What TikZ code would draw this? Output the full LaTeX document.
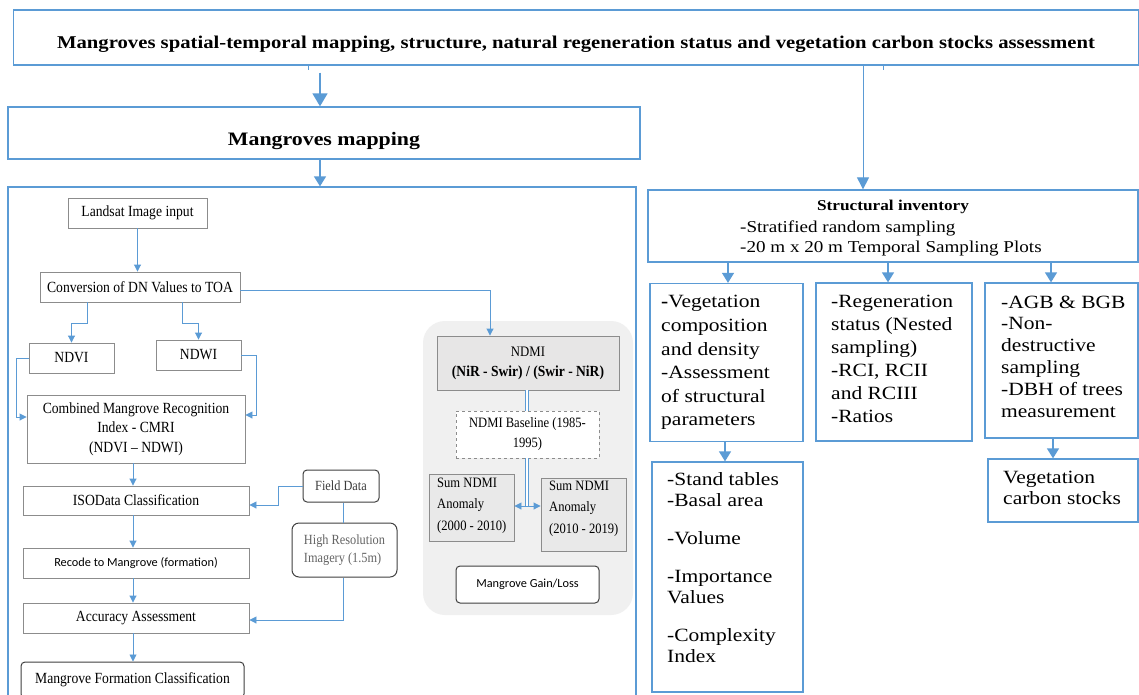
\documentclass[tikz,border=0pt]{standalone}
\usepackage{fontspec}
\setmainfont{Liberation Serif}
\newfontfamily\wserif{Liberation Serif}[FakeStretch=1.15]
\newfontfamily\nserif{Liberation Serif}[FakeStretch=0.88]
\newfontfamily\calib{Carlito}
\usetikzlibrary{arrows.meta}
\definecolor{bl}{RGB}{91,155,213}
\definecolor{gb}{RGB}{140,140,140}
\definecolor{db}{RGB}{64,64,64}
\definecolor{pg}{RGB}{240,240,240}
\definecolor{ng}{RGB}{231,230,230}
\definecolor{sg}{RGB}{233,233,233}
\definecolor{fd}{RGB}{60,60,60}
\definecolor{hrt}{RGB}{100,100,100}
\begin{document}
\begin{tikzpicture}[x=1pt,y=-1pt,
  sz/.style 2 args={minimum width=#1pt,minimum height=#2pt},
  bbox/.style={draw=bl,line width=1.3pt,inner sep=0pt},
  gbox/.style={draw=gb,line width=0.9pt,fill=white,inner sep=0pt},
  dbox/.style={draw=db,line width=1pt,fill=white,inner sep=0pt,rounded corners=4pt},
  arr/.style={draw=bl,line width=0.9pt,-{Triangle[width=7pt,length=7pt]}},
  marr/.style={draw=bl,line width=1.3pt,-{Triangle[width=12pt,length=10pt]}},
  tarr/.style={draw=bl,line width=1pt,-{Triangle[width=12pt,length=12pt]}},
  barr/.style={draw=bl,line width=1.4pt,-{Triangle[width=15pt,length=13pt]}},
  dbl/.style={draw=bl,double=white,line width=0.7pt,double distance=2.2pt},
  lt/.style={font=\nserif\fontsize{15.5}{19.5}\selectfont,inner sep=0pt},
  pt/.style={font=\nserif\fontsize{14.3}{21.5}\selectfont,inner sep=0pt},
  rt/.style={font=\wserif\fontsize{18.7}{23.6}\selectfont,inner sep=0pt,align=left,anchor=north west},
]
\clip (0,0) rectangle (1139,694);
\fill[white] (0,0) rectangle (1139,694);

% coordinates for connector bends
\coordinate (ax1) at (320,0);
\coordinate (ax2) at (863,0);
\coordinate (t1) at (308,0);
\coordinate (t2) at (883,0);
\coordinate (r1) at (728,0);
\coordinate (r2) at (888,0);
\coordinate (r3) at (1051,0);
\coordinate (r4) at (725,0);
\coordinate (r5) at (1053,0);
\coordinate (c1) at (87,323);
\coordinate (c2) at (182,323);
\coordinate (c3) at (16,417);
\coordinate (c4) at (256,415);
\coordinate (vx) at (133,0);
\coordinate (c6) at (278,505);
\coordinate (c7) at (343,0);
\coordinate (c8) at (343,620);
\coordinate (c9) at (490,290);
\coordinate (c10) at (527,506);

% top level
\node[bbox,sz={1125}{55}] (top) at (576,37.5) {};
\node[font=\wserif\bfseries\fontsize{18}{22}\selectfont,inner sep=0pt] (toptxt) at (576,44)
  {Mangroves spatial-temporal mapping, structure, natural regeneration status and vegetation carbon stocks assessment};
\node[bbox,sz={632}{52}] (mm) at (324,133) {};
\node[font=\wserif\bfseries\fontsize{19}{22}\selectfont,inner sep=0pt] (mmtxt) at (324,141) {Mangroves mapping};
\node[bbox,sz={628}{520}] (lp) at (322,447) {};

\draw[bl,line width=1pt] (top.south -| t1) -- ++(0,4);
\draw[bl,line width=1pt] (top.south -| t2) -- ++(0,4);
\draw[barr,shorten <=7pt] (top.south -| ax1) -- (mm.north -| ax1);
\draw[marr] (mm.south -| ax1) -- (lp.north -| ax1);

% right side
\node[bbox,sz={490}{72}] (si) at (893,226) {};
\node[font=\wserif\bfseries\fontsize{15}{19}\selectfont,inner sep=0pt,anchor=base] (sihead) at (893,210.5) {Structural inventory};
\node[font=\wserif\fontsize{16.6}{19.5}\selectfont,inner sep=0pt,align=left,anchor=north west] (sitxt) at (740,220.7)
  {-Stratified random sampling\\-20 m x 20 m Temporal Sampling Plots};
\draw[tarr] (top.south -| ax2) -- (si.north -| ax2);

\node[bbox,sz={153}{158}] (ba) at (726.5,362.5) {};
\node[bbox,sz={156}{158}] (bb) at (894,362) {};
\node[bbox,sz={153}{155}] (bc) at (1061.5,360.5) {};
\node[bbox,sz={151}{230}] (bd) at (727.5,577) {};
\node[bbox,sz={150}{63}] (be) at (1063,490.5) {};

\node[rt] (ta) at (661,295.4) {\textbf{-}Vegetation\\composition\\and density\\-Assessment\\of structural\\parameters};
\node[rt,font=\wserif\fontsize{18.7}{23}\selectfont] (tb) at (831,295.4) {-Regeneration\\status (Nested\\sampling)\\-RCI, RCII\\and RCIII\\-Ratios};
\node[rt,font=\wserif\fontsize{18.7}{21.8}\selectfont] (tc) at (1001,295.5) {-AGB \& BGB\\-Non-\\destructive\\sampling\\-DBH of trees\\measurement};
\node[rt,font=\wserif\fontsize{18.7}{21}\selectfont] (td) at (667,472.4) {-Stand tables\\-Basal area\\[17pt]-Volume\\[17pt]-Importance\\Values\\[17pt]-Complexity\\Index};
\node[rt,font=\wserif\fontsize{18.7}{20.5}\selectfont] (te) at (1003,471.4) {Vegetation\\carbon stocks};

\draw[marr] (si.south -| r1) -- (ba.north -| r1);
\draw[marr] (si.south -| r2) -- (bb.north -| r2);
\draw[marr] (si.south -| r3) -- (bc.north -| r3);
\draw[marr] (ba.south -| r4) -- (bd.north -| r4);
\draw[marr] (bc.south -| r5) -- (be.north -| r5);

% left panel flow
\node[gbox,sz={139}{30},lt] (land) at (137.5,213) {Landsat Image input};
\node[gbox,sz={200}{30},lt] (conv) at (140,287) {Conversion of DN Values to TOA};
\node[gbox,sz={85}{30},lt] (ndvi) at (71.5,358) {NDVI};
\node[gbox,sz={85}{30},lt] (ndwi) at (198.5,355) {NDWI};
\node[gbox,sz={218}{68},lt,align=center] (cmri) at (136,429) {Combined Mangrove Recognition\\Index - CMRI\\(NDVI – NDWI)};
\node[gbox,sz={226}{29},lt] (iso) at (136,500.5) {ISOData Classification};
\node[gbox,sz={226}{30},font=\calib\fontsize{12.3}{15}\selectfont] (rec) at (136,563) {Recode to Mangrove (formation)};
\node[gbox,sz={226}{30},lt] (acc) at (136,618) {Accuracy Assessment};
\node[dbox,sz={223}{36},lt] (mfc) at (132.5,680) {Mangrove Formation Classification};
\node[dbox,sz={76}{32},font=\nserif\fontsize{14}{17}\selectfont,text=fd] (field) at (341,486) {Field Data};
\node[dbox,rounded corners=7pt,sz={105}{54},font=\nserif\fontsize{14}{18}\selectfont,text=hrt,align=left] (hr) at (344.5,550) {High Resolution\\Imagery (1.5m)};

\draw[arr] (land.south) -- (land.south |- conv.north);
\draw[arr] (conv.south -| c1) -- (c1) -| (ndvi.north);
\draw[arr] (conv.south -| c2) -- (c2) -| (ndwi.north);
\draw[arr] (ndvi.west) -| (c3) -- (cmri.west |- c3);
\draw[arr] (ndwi.east) -| (c4) -- (cmri.east |- c4);
\draw[arr] (cmri.south -| vx) -- (iso.north -| vx);
\draw[arr] (iso.south -| vx) -- (rec.north -| vx);
\draw[arr] (rec.south -| vx) -- (acc.north -| vx);
\draw[arr] (acc.south -| vx) -- (mfc.north -| vx);
\draw[arr] (field.west) -| (c6) -- (iso.east |- c6);
\draw[bl,line width=0.9pt] (field.south -| c7) -- (hr.north -| c7);
\draw[arr] (hr.south -| c7) -- (c8) -- (acc.east |- c8);

% NDMI panel
\node[fill=pg,rounded corners=22pt,sz={210}{294},inner sep=0pt] (panel) at (528,468) {};
\node[draw=gb,fill=ng,line width=0.9pt,sz={182}{54},inner sep=0pt,align=center,font=\nserif\fontsize{14.5}{20}\selectfont] (ndmi) at (528,363)
  {NDMI\\{\fontsize{15.4}{20}\selectfont\bfseries (NiR - Swir) / (Swir - NiR)}};
\node[draw=gb,dashed,fill=white,line width=0.8pt,sz={143}{47},inner sep=0pt,align=center,font=\nserif\fontsize{14.3}{20}\selectfont] (base) at (527.5,434.5)
  {NDMI Baseline (1985-\\1995)};
\node[draw=gb,fill=sg,line width=0.9pt,sz={85}{67},inner sep=0pt] (s1) at (471.5,507.5) {};
\node[draw=gb,fill=sg,line width=0.9pt,sz={85}{73},inner sep=0pt] (s2) at (583.5,514.5) {};
\node[pt,align=left,anchor=north west] (s1t) at (437,477.4) {Sum NDMI\\Anomaly\\(2000 - 2010)};
\node[pt,align=left,anchor=north west] (s2t) at (549,480.4) {Sum NDMI\\Anomaly\\(2010 - 2019)};
\node[dbox,sz={143}{37},font=\calib\fontsize{12.3}{15}\selectfont] (gain) at (527.5,584.5) {Mangrove Gain/Loss};

\draw[arr] (conv.east |- c9) -- (c9) -- (ndmi.north -| c9);
\draw[dbl] (ndmi.south -| c10) -- (base.north -| c10);
\draw[dbl] (base.south -| c10) -- (c10);
\draw[arr] (c10) -- (s1.east |- c10);
\draw[arr] (c10) -- (s2.west |- c10);
\end{tikzpicture}
\end{document}
